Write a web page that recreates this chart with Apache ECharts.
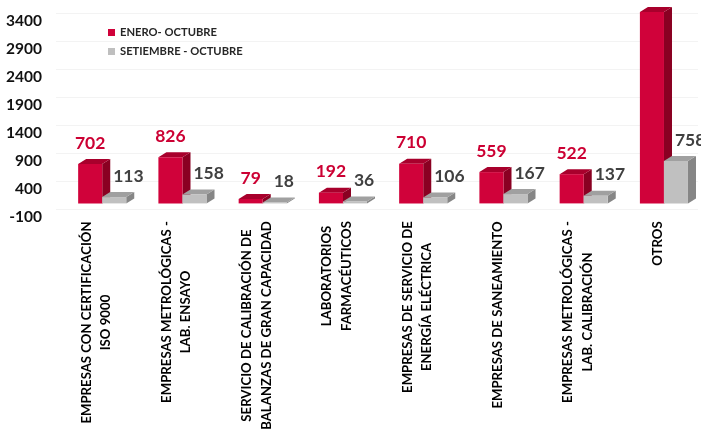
<!DOCTYPE html>
<html>
<head>
<meta charset="utf-8">
<script src="https://cdn.jsdelivr.net/npm/echarts@6/dist/echarts.min.js"></script>
<style>
  html, body { margin: 0; padding: 0; background: #fff; }
  #chart { width: 701px; height: 434px; }
</style>
</head>
<body>
<div id="chart"></div>
<script>
// datos
const categories = [
  "EMPRESAS CON CERTIFICACIÓN\nISO 9000",
  "EMPRESAS METROLÓGICAS -\nLAB. ENSAYO",
  "SERVICIO DE CALIBRACIÓN DE\nBALANZAS DE GRAN CAPACIDAD",
  "LABORATORIOS\nFARMACÉUTICOS",
  "EMPRESAS DE SERVICIO DE\nENERGÍA ELÉCTRICA",
  "EMPRESAS DE SANEAMIENTO",
  "EMPRESAS METROLÓGICAS -\nLAB. CALIBRACIÓN",
  "OTROS"
];
const eneroOctubre = [702, 826, 79, 192, 710, 559, 522, 3420];
const setiembreOctubre = [113, 158, 18, 36, 106, 167, 137, 758];
// the tallest red bar carries no value label in the original
const eneroLabelShown = [true, true, true, true, true, true, true, false];
const seriesNames = ["ENERO- OCTUBRE", "SETIEMBRE - OCTUBRE"];
const yTicks = { min: -100, max: 3400, interval: 500 };

const FONT = "Lato";
const catFontSize = 13.2;

// width of each category label (longest line) so the lines can be centred
const ctx = document.createElement("canvas").getContext("2d");
ctx.font = "bold " + catFontSize + "px " + FONT;
const catRich = {};
categories.forEach(function (c, i) {
  let w = 0;
  c.split("\n").forEach(function (l) {
    w = Math.max(w, ctx.measureText(l).width);
  });
  catRich["c" + i] = {
    width: Math.ceil(w) + 2,
    align: "center",
    fontSize: catFontSize,
    fontWeight: "bold",
    fontFamily: FONT,
    lineHeight: 19.5,
    color: "#000"
  };
});

// 3d looking bar: front face, side face, top face + value label
function bar3d(offset, faces, labelColor, labelLeft, labelShown) {
  return function (params, api) {
    const idx = api.value(0);
    const val = api.value(1);
    const top = api.coord([idx, val]);
    const base = api.coord([idx, 0]);
    const bw = api.size([1, 0])[0];
    const w = bw * 0.3;
    const dx = bw * 0.1;
    const dy = 5;
    const x0 = top[0] + bw * offset;
    const x1 = x0 + w;
    const y1 = top[1];
    const y0 = base[1];
    const children = [
      {
        type: "polygon",
        shape: { points: [[x1, y1], [x1 + dx, y1 - dy], [x1 + dx, y0 - dy], [x1, y0]] },
        style: { fill: faces[1] }
      },
      {
        type: "polygon",
        shape: { points: [[x0, y1], [x0 + dx, y1 - dy], [x1 + dx, y1 - dy], [x1, y1]] },
        style: { fill: faces[2] }
      },
      {
        type: "rect",
        shape: { x: x0, y: y1, width: w, height: y0 - y1 },
        style: { fill: faces[0] }
      }
    ];
    if (labelShown[params.dataIndex]) {
      children.push({
        type: "text",
        x: labelLeft ? x0 + w / 2 - 1 : x0 + w / 2,
        y: y1 - 21,
        style: {
          text: String(val),
          fill: labelColor,
          font: "bold 17.5px " + FONT,
          textAlign: labelLeft ? "left" : "center",
          textVerticalAlign: "middle"
        }
      });
    }
    return { type: "group", children: children };
  };
}

const chart = echarts.init(document.getElementById("chart"), null, { renderer: "canvas" });
chart.setOption({
  animation: false,
  backgroundColor: "#fff",
  grid: { left: 56, right: 3, top: 13, bottom: 223.4, containLabel: false },
  legend: {
    orient: "vertical",
    left: 103,
    top: 22,
    itemWidth: 7,
    itemHeight: 7,
    itemGap: 8,
    icon: "rect",
    data: seriesNames,
    textStyle: { fontFamily: FONT, fontWeight: "bold", fontSize: 11.2, color: "#262626" }
  },
  xAxis: {
    type: "category",
    data: categories,
    axisLine: { show: false },
    axisTick: { show: false },
    axisLabel: {
      interval: 0,
      rotate: 90,
      margin: 11,
      formatter: function (value, index) {
        return value.split("\n").map(function (l) {
          return "{c" + index + "|" + l + "}";
        }).join("\n");
      },
      rich: catRich
    }
  },
  yAxis: {
    type: "value",
    min: yTicks.min,
    max: yTicks.max,
    interval: yTicks.interval,
    axisLine: { show: false },
    axisTick: { show: false },
    splitLine: { lineStyle: { color: "#f3f3f3" } },
    axisLabel: {
      margin: 14,
      verticalAlign: "top",
      lineHeight: 15,
      formatter: function (v) { return String(v); },
      fontFamily: FONT,
      fontWeight: "bold",
      fontSize: 15.5,
      color: "#111"
    }
  },
  series: [
    {
      name: seriesNames[0],
      type: "custom",
      clip: false,
      itemStyle: { color: "#d0023a" },
      renderItem: bar3d(-0.224, ["#d0023a", "#8a0022", "#a8002c"], "#cc0033", false, eneroLabelShown),
      encode: { x: 0, y: 1 },
      data: eneroOctubre.map(function (v, i) { return [i, v]; })
    },
    {
      name: seriesNames[1],
      type: "custom",
      clip: false,
      itemStyle: { color: "#bfbfbf" },
      renderItem: bar3d(0.075, ["#c0c0c0", "#868686", "#a0a0a0"], "#404040", true, categories.map(function () { return true; })),
      encode: { x: 0, y: 1 },
      data: setiembreOctubre.map(function (v, i) { return [i, v]; })
    }
  ]
});
</script>
</body>
</html>
